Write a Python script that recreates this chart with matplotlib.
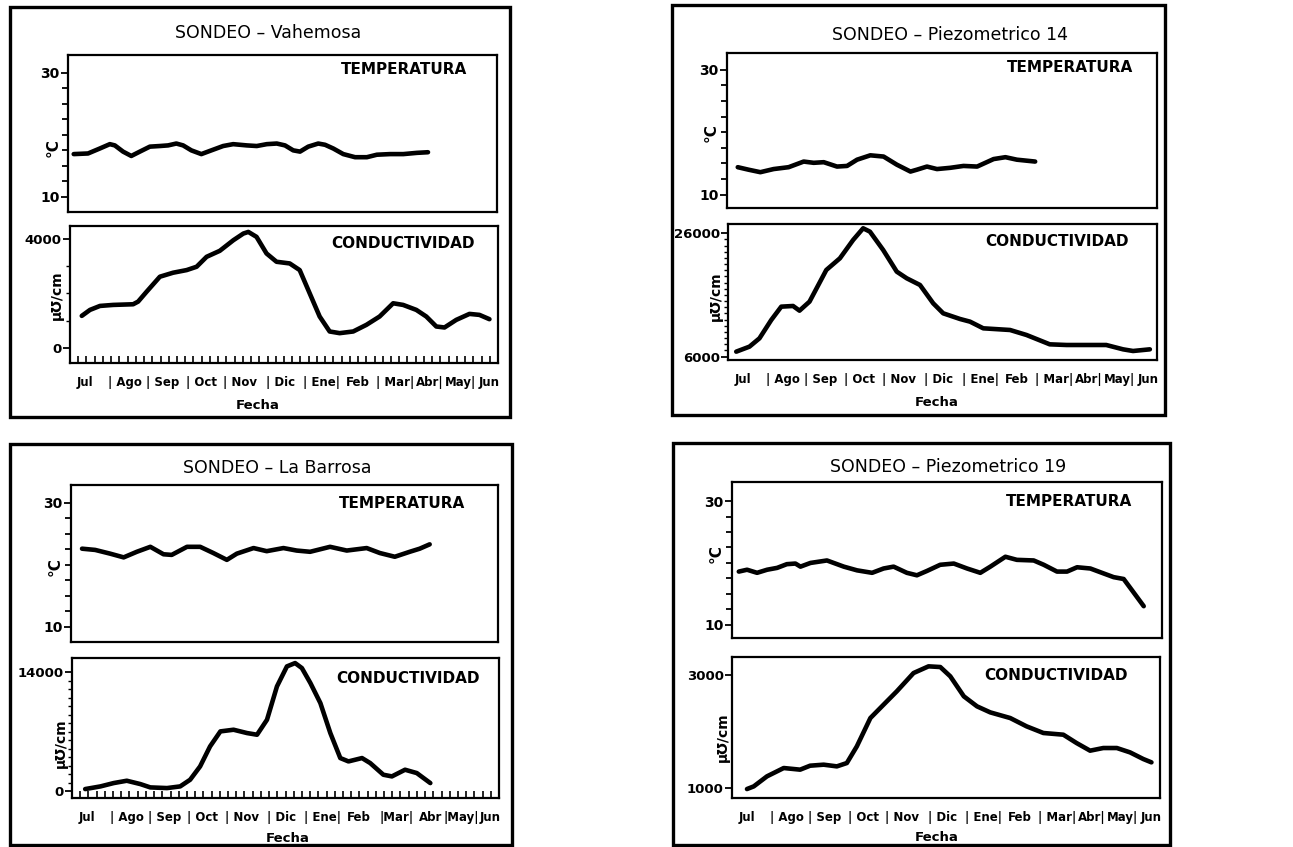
import numpy as np
import matplotlib
matplotlib.use("Agg")
import matplotlib.pyplot as plt
from matplotlib.patches import Rectangle
from matplotlib.ticker import FixedLocator

plt.rcParams['font.family'] = ['DejaVu Sans']

# months counted from the start of July (0) to the end of June (12)
meses = ["Jul", "| Ago", "| Sep", "| Oct", "| Nov", "| Dic", "| Ene|", "Feb", "| Mar|", "Abr|", "May|", "Jun"]
meses_barrosa = ["Jul", "| Ago", "| Sep", "| Oct", "| Nov", "| Dic", "| Ene|", "Feb", "|Mar|", "Abr", "|May|", "Jun"]
mes_pos = [0.42, 1.55, 2.6, 3.68, 4.78, 5.9, 7.05, 8.07, 9.12, 10.08, 10.95, 11.74]

# Vahemosa
vah_temp_mes = [0.16, 0.56, 0.89, 1.17, 1.31, 1.54, 1.77, 2.01, 2.29, 2.57, 2.80, 3.03, 3.22, 3.45,
                3.73, 4.01, 4.34, 4.62, 5.0, 5.28, 5.56, 5.84, 6.07, 6.30, 6.49, 6.72, 7.00, 7.19,
                7.42, 7.70, 8.03, 8.36, 8.64, 9.01, 9.38, 9.76, 10.07]
vah_temp = [16.9, 17.0, 17.8, 18.5, 18.3, 17.3, 16.6, 17.3, 18.1, 18.2, 18.3, 18.6, 18.3, 17.5,
            16.9, 17.5, 18.2, 18.5, 18.3, 18.2, 18.5, 18.6, 18.3, 17.5, 17.3, 18.1, 18.6, 18.4,
            17.8, 16.9, 16.4, 16.4, 16.8, 16.9, 16.9, 17.1, 17.2]
vah_cond_mes = [0.33, 0.56, 0.84, 1.21, 1.77, 1.91, 2.15, 2.52, 2.89, 3.27, 3.55, 3.83, 4.20, 4.58,
                4.86, 5.0, 5.23, 5.51, 5.79, 6.16, 6.44, 6.72, 7.0, 7.28, 7.56, 7.94, 8.31, 8.68,
                9.06, 9.34, 9.71, 9.99, 10.27, 10.50, 10.83, 11.2, 11.48, 11.76]
vah_cond = [1176, 1394, 1539, 1576, 1600, 1697, 2061, 2606, 2752, 2848, 2970, 3333, 3552, 3939,
            4182, 4242, 4061, 3455, 3152, 3091, 2848, 2000, 1152, 606, 545, 606, 848, 1152,
            1636, 1576, 1394, 1152, 788, 752, 1030, 1248, 1212, 1055]

# Piezometrico 14
p14_temp_mes = [0.30, 0.60, 0.93, 1.30, 1.72, 2.14, 2.42, 2.70, 3.07, 3.35, 3.63, 4.0, 4.37, 4.74,
                5.12, 5.30, 5.58, 5.86, 6.23, 6.60, 6.98, 7.44, 7.77, 8.09, 8.60]
p14_temp = [14.4, 14.0, 13.6, 14.1, 14.4, 15.3, 15.1, 15.2, 14.5, 14.6, 15.6, 16.3, 16.1, 14.8,
            13.7, 14.0, 14.5, 14.1, 14.3, 14.6, 14.5, 15.7, 16.0, 15.6, 15.3]
p14_cond_mes = [0.23, 0.60, 0.88, 1.21, 1.49, 1.82, 2.0, 2.28, 2.75, 3.13, 3.50, 3.78, 3.97, 4.34,
                4.72, 5.0, 5.37, 5.74, 6.02, 6.49, 6.77, 7.14, 7.89, 8.35, 9.0, 9.47, 10.58, 11.05,
                11.33, 11.80]
p14_cond = [6811, 7622, 8973, 11946, 14108, 14216, 13459, 14919, 20054, 21946, 24919, 26811, 26270, 23297,
            19784, 18703, 17622, 14649, 13027, 12108, 11676, 10595, 10324, 9514, 8000, 7892, 7892, 7189,
            6919, 7189]

# La Barrosa
bar_temp_mes = [0.31, 0.68, 1.10, 1.48, 1.85, 2.23, 2.60, 2.83, 3.26, 3.63, 4.0, 4.38, 4.66, 5.13,
                5.50, 5.97, 6.34, 6.72, 7.28, 7.75, 8.31, 8.68, 9.10, 9.52, 9.80, 10.08]
bar_temp = [22.6, 22.4, 21.8, 21.2, 22.1, 22.9, 21.7, 21.6, 22.9, 22.9, 21.9, 20.8, 21.8, 22.7,
            22.2, 22.7, 22.3, 22.1, 22.9, 22.3, 22.7, 21.9, 21.3, 22.1, 22.6, 23.3]
bar_cond_mes = [0.37, 0.80, 1.17, 1.54, 1.92, 2.20, 2.67, 3.04, 3.32, 3.60, 3.88, 4.17, 4.54, 4.92,
                5.20, 5.48, 5.76, 6.04, 6.27, 6.46, 6.70, 6.98, 7.26, 7.54, 7.77, 8.15, 8.38, 8.75,
                8.99, 9.36, 9.69, 10.07]
bar_cond = [275, 588, 980, 1255, 863, 471, 392, 588, 1373, 2941, 5294, 7059, 7255, 6863,
            6667, 8431, 12353, 14706, 15098, 14510, 12745, 10392, 6863, 3922, 3529, 3922, 3333, 1961,
            1765, 2549, 2157, 980]

# Piezometrico 19
p19_temp_mes = [0.19, 0.42, 0.70, 0.98, 1.26, 1.53, 1.77, 1.91, 2.19, 2.65, 3.12, 3.49, 3.91, 4.23,
                4.51, 4.88, 5.16, 5.44, 5.81, 6.19, 6.56, 6.93, 7.21, 7.63, 7.95, 8.42, 8.70, 9.07,
                9.35, 9.63, 10.0, 10.37, 10.65, 10.93, 11.16, 11.49]
p19_temp = [18.6, 18.9, 18.4, 18.9, 19.2, 19.8, 19.9, 19.4, 20.0, 20.4, 19.4, 18.8, 18.4, 19.1,
            19.4, 18.4, 18.0, 18.7, 19.7, 19.9, 19.1, 18.4, 19.4, 21.0, 20.5, 20.4, 19.7, 18.6,
            18.6, 19.3, 19.1, 18.3, 17.7, 17.4, 15.6, 13.0]
p19_cond_mes = [0.42, 0.61, 0.98, 1.45, 1.91, 2.19, 2.57, 2.94, 3.22, 3.50, 3.88, 4.25, 4.62, 5.09,
                5.51, 5.84, 6.12, 6.5, 6.87, 7.24, 7.80, 8.26, 8.73, 9.29, 9.66, 10.04, 10.41, 10.79,
                11.16, 11.53, 11.76]
p19_cond = [982, 1029, 1206, 1353, 1324, 1394, 1412, 1382, 1441, 1735, 2235, 2471, 2706, 3029,
            3147, 3135, 2971, 2618, 2441, 2335, 2235, 2088, 1971, 1941, 1794, 1659, 1706, 1706,
            1629, 1512, 1453]

W, H = 1293, 847
fig = plt.figure(figsize=(W / 100, H / 100), dpi=100)
fig.patch.set_facecolor('white')


def px_axes(l, t, r, b):
    return fig.add_axes([l / W, 1 - b / H, (r - l) / W, (b - t) / H])


def ptext(x, y, s, **kw):
    kw.setdefault('ha', 'center')
    kw.setdefault('va', 'center')
    fig.text(x / W, 1 - y / H, s, **kw)


def panel(p):
    box = p['box']
    fig.patches.append(Rectangle((box[0] / W, 1 - box[3] / H), (box[2] - box[0]) / W,
                                 (box[3] - box[1]) / H, transform=fig.transFigure,
                                 fill=False, lw=2.4, ec='black'))
    ptext(p['title_xy'][0], p['title_xy'][1], p['title'], fontsize=12.5)

    # temperature
    at = px_axes(*p['temp_ax'])
    at.plot(p['tx'], p['ty'], color='black', lw=3.3, solid_capstyle='round', solid_joinstyle='round')
    at.set_xlim(0, 12)
    at.set_ylim(*p['tlim'])
    at.set_yticks([10, 30])
    at.yaxis.set_minor_locator(FixedLocator(np.arange(12.5, 30, 2.5)))
    at.set_xticks([])
    at.tick_params(axis='y', which='major', length=5, width=1.3, labelsize=10, pad=1)
    at.tick_params(axis='y', which='minor', length=4, width=1.3)
    for lab in at.get_yticklabels():
        lab.set_fontweight('bold')
    for s in at.spines.values():
        s.set_linewidth(1.6)
    ptext(p['temp_lbl'][0], p['temp_lbl'][1], 'TEMPERATURA', fontsize=11, fontweight='bold')
    ptext(p['degc'][0], p['degc'][1], '°C', fontsize=11, fontweight='bold', rotation=90)

    # conductivity
    ac = px_axes(*p['cond_ax'])
    ac.plot(p['cx'], p['cy'], color='black', lw=3.3, solid_capstyle='round', solid_joinstyle='round')
    ac.set_xlim(0, 12)
    ac.set_ylim(*p['clim'])
    lo, hi = p['cticks']
    ac.set_yticks([lo, hi])
    if p['cminor']:
        ac.yaxis.set_minor_locator(FixedLocator(np.arange(lo + p['cminor'], hi, p['cminor'])))
    ac.tick_params(axis='y', which='major', length=5, width=1.3, labelsize=9.5, pad=1)
    ac.tick_params(axis='y', which='minor', length=3, width=1.0)
    for lab in ac.get_yticklabels():
        lab.set_fontweight('bold')
    ac.set_xticks(mes_pos, p['meses'])
    ac.tick_params(axis='x', which='major', length=0, labelsize=8.5, pad=9)
    for lab in ac.get_xticklabels():
        lab.set_fontweight('bold')
    if p['semanas']:
        ac.xaxis.set_minor_locator(FixedLocator(np.arange(1, 52) * 12 / 52))
        ac.tick_params(axis='x', which='minor', direction='in', length=5, width=1.2)
    for s in ac.spines.values():
        s.set_linewidth(1.6)
    ptext(p['cond_lbl'][0], p['cond_lbl'][1], 'CONDUCTIVIDAD', fontsize=11, fontweight='bold')
    ptext(p['umho'][0], p['umho'][1], 'µ℧/cm', fontsize=10, fontweight='bold', rotation=90)
    ptext(p['fecha'][0], p['fecha'][1], 'Fecha', fontsize=9.5, fontweight='bold')


panels = [
    dict(box=(10, 7, 510, 417), title='SONDEO – Vahemosa', title_xy=(268, 33),
         temp_ax=(68, 55, 497, 212), tx=vah_temp_mes, ty=vah_temp, tlim=(7.58, 32.85),
         temp_lbl=(404, 69), degc=(53, 148),
         cond_ax=(70, 226, 498, 363), cx=vah_cond_mes, cy=vah_cond, clim=(-545, 4458),
         cticks=(0, 4000), cminor=1000, cond_lbl=(403, 243), umho=(57, 295),
         meses=meses, semanas=True, fecha=(258, 405)),
    dict(box=(672, 5, 1165, 415), title='SONDEO – Piezometrico 14', title_xy=(950, 35),
         temp_ax=(727, 53, 1157, 208), tx=p14_temp_mes, ty=p14_temp, tlim=(7.87, 32.67),
         temp_lbl=(1070, 68), degc=(711, 133),
         cond_ax=(728, 224, 1157, 360), cx=p14_cond_mes, cy=p14_cond, clim=(5459, 27508),
         cticks=(6000, 26000), cminor=1000, cond_lbl=(1057, 242), umho=(716, 296),
         meses=meses, semanas=False, fecha=(937, 402)),
    dict(box=(10, 444, 512, 845), title='SONDEO – La Barrosa', title_xy=(277, 468),
         temp_ax=(71, 485, 498, 642), tx=bar_temp_mes, ty=bar_temp, tlim=(7.58, 32.85),
         temp_lbl=(402, 503), degc=(55, 567),
         cond_ax=(72, 658, 499, 798), cx=bar_cond_mes, cy=bar_cond, clim=(-776, 15694),
         cticks=(0, 14000), cminor=1000, cond_lbl=(408, 678), umho=(61, 743),
         meses=meses_barrosa, semanas=True, fecha=(288, 838)),
    dict(box=(673, 443, 1170, 845), title='SONDEO – Piezometrico 19', title_xy=(948, 467),
         temp_ax=(732, 482, 1162, 638), tx=p19_temp_mes, ty=p19_temp, tlim=(7.85, 33.1),
         temp_lbl=(1069, 502), degc=(716, 554),
         cond_ax=(732, 657, 1160, 798), cx=p19_cond_mes, cy=p19_cond, clim=(824, 3312),
         cticks=(1000, 3000), cminor=None, cond_lbl=(1056, 675), umho=(723, 737),
         meses=meses, semanas=False, fecha=(937, 837)),
]

for p in panels:
    panel(p)

fig.savefig('out.png', dpi=100, facecolor='white')
